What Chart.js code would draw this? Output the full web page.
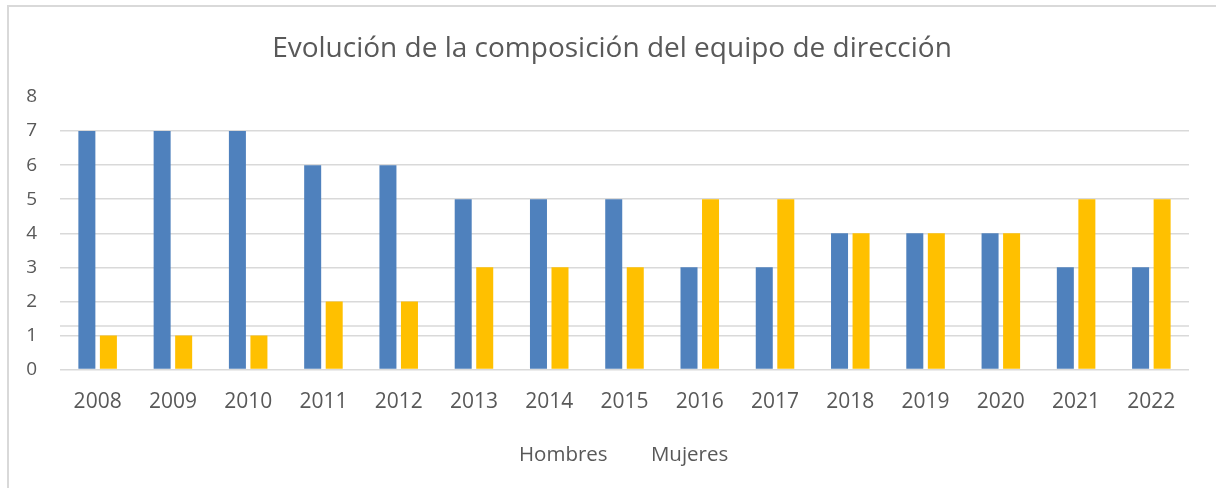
<!DOCTYPE html>
<html lang="es">
<head>
<meta charset="UTF-8">
<title>Evolución de la composición del equipo de dirección</title>
<script src="https://cdn.jsdelivr.net/npm/chart.js@4.4.0/dist/chart.umd.min.js"></script>
<style>
  body { margin: 0; background: #fff; }
  #frame {
    position: absolute; left: 7px; top: 5px; width: 1209px; height: 483px;
    border-left: 2px solid #d9d9d9; border-top: 2px solid #d9d9d9;
  }
  #wrap { position: absolute; left: 0; top: 0; width: 1216px; height: 488px; }
</style>
</head>
<body>
<div id="frame"></div>
<div id="wrap"><canvas id="myChart"></canvas></div>
<script>
const years = ['2008', '2009', '2010', '2011', '2012', '2013', '2014', '2015',
               '2016', '2017', '2018', '2019', '2020', '2021', '2022'];
const hombres = [7, 7, 7, 6, 6, 5, 5, 5, 3, 3, 4, 4, 4, 3, 3];
const mujeres = [1, 1, 1, 2, 2, 3, 3, 3, 5, 5, 4, 4, 4, 5, 5];
const yMax = 8;
const strayGridValue = 1.28; // extra faint line that shows up in the original

const textColor = '#595959';
const gridColor = '#d9d9d9';
const fontFamily = '"Open Sans", "Liberation Sans", sans-serif';

// the original has one odd extra grid line just above 1
const strayLine = {
  id: 'strayLine',
  beforeDatasetsDraw(chart) {
    const { ctx, chartArea, scales } = chart;
    const y = scales.y.getPixelForValue(strayGridValue);
    ctx.save();
    ctx.strokeStyle = gridColor;
    ctx.lineWidth = 1.5;
    ctx.beginPath();
    ctx.moveTo(chartArea.left, y);
    ctx.lineTo(chartArea.right, y);
    ctx.stroke();
    ctx.restore();
  }
};

// title sits a little right of the box centre in the original
const nudgeTitle = {
  id: 'nudgeTitle',
  afterLayout(chart) {
    chart.titleBlock.left += 5;
    chart.titleBlock.right += 5;
  }
};

const ctx = document.getElementById('myChart').getContext('2d');
const myChart = new Chart(ctx, {
  type: 'bar',
  data: {
    labels: years,
    datasets: [{
      label: 'Hombres',
      data: hombres,
      backgroundColor: '#4f81bd'
    }, {
      label: 'Mujeres',
      data: mujeres,
      backgroundColor: '#ffc000'
    }]
  },
  options: {
    responsive: true,
    maintainAspectRatio: false,
    animation: false,
    datasets: {
      bar: { categoryPercentage: 0.572, barPercentage: 0.79 }
    },
    layout: { padding: { left: 25, right: 27, top: 0, bottom: 13 } },
    plugins: {
      title: {
        display: true,
        text: 'Evolución de la composición del equipo de dirección',
        color: textColor,
        font: { family: fontFamily, size: 28, weight: 'normal' },
        padding: { top: 32, bottom: 31.4 }
      },
      legend: {
        position: 'bottom',
        labels: {
          color: textColor,
          font: { family: fontFamily, size: 20.5 },
          boxWidth: 23,
          padding: 10,
          // the legend in the picture shows no colour keys
          generateLabels(chart) {
            const items = Chart.defaults.plugins.legend.labels.generateLabels(chart);
            items.forEach(it => {
              it.fillStyle = 'rgba(0,0,0,0)';
              it.strokeStyle = 'rgba(0,0,0,0)';
              it.lineWidth = 0;
            });
            return items;
          }
        }
      },
      tooltip: { enabled: false }
    },
    scales: {
      x: {
        grid: { display: false },
        border: { display: false },
        ticks: {
          color: textColor,
          font: { family: fontFamily, size: 21 },
          padding: 12,
          maxRotation: 0,
          autoSkip: false
        },
        afterFit(scale) { scale.height = 65; }
      },
      y: {
        min: 0,
        max: yMax,
        border: { display: false },
        grid: {
          drawTicks: false,
          lineWidth: 1.5,
          color: c => (c.tick && c.tick.value === yMax) ? 'rgba(0,0,0,0)' : gridColor
        },
        ticks: {
          stepSize: 1,
          color: textColor,
          font: { family: fontFamily, size: 19 },
          padding: 23
        },
        afterFit(scale) { scale.width = 35; }
      }
    }
  },
  plugins: [strayLine, nudgeTitle]
});
</script>
</body>
</html>
